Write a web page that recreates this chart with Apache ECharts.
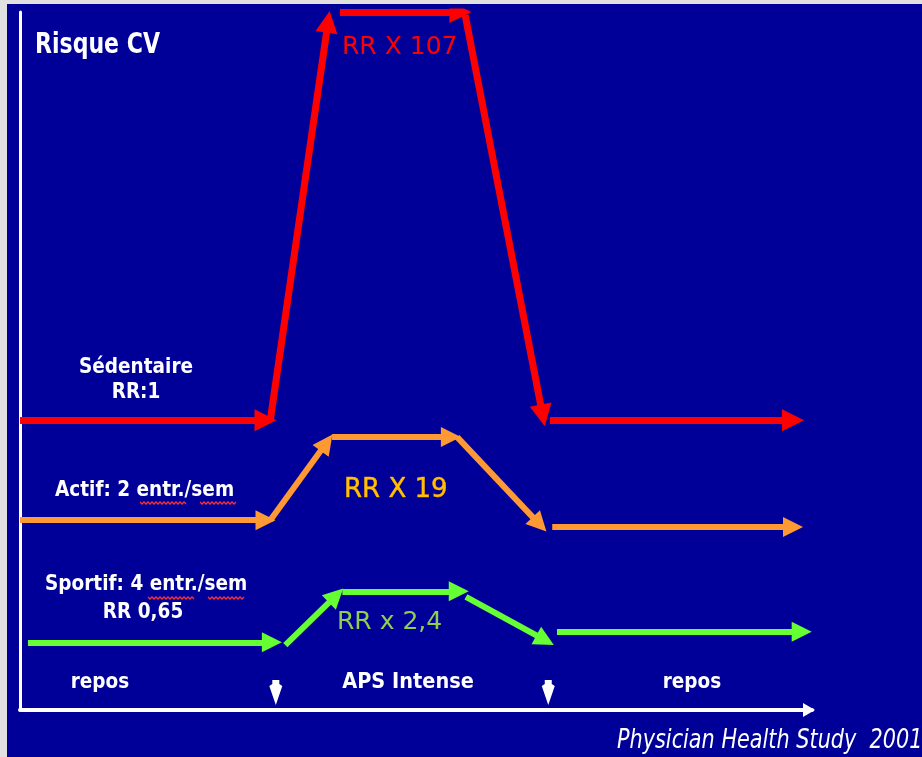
<!DOCTYPE html>
<html>
<head>
<meta charset="utf-8">
<script src="https://cdn.jsdelivr.net/npm/echarts@6/dist/echarts.min.js"></script>
<style>
    html, body { margin: 0; padding: 0; background: #e0e0e0; }
    #chart { width: 922px; height: 757px; }
</style>
</head>
<body>
<div id="chart"></div>
<script>
// Schematic: time goes 0..100 along x, relative risk level 0..100 along y
// each profile = 5 arrows: repos, montée, APS intense, descente, repos
const sedentaireFrom = [[0, 41.5], [31.6, 41.5], [40.4, 100], [56.2, 99.6], [66.9, 41.5]];
const sedentaireTo = [[31.0, 41.5], [38.9, 98.6], [55.6, 100], [66.0, 42.2], [97.6, 41.5]];

const actifFrom = [[0, 27.2], [31.6, 27.2], [39.4, 39.1], [55.2, 39.1], [67.2, 26.2]];
const actifTo = [[31.0, 27.2], [38.7, 38.3], [54.4, 39.1], [65.6, 26.6], [97.6, 26.2]];

const sportifFrom = [[1.0, 9.7], [33.5, 9.3], [40.7, 17.0], [56.3, 16.2], [67.8, 11.2]];
const sportifTo = [[31.8, 9.7], [39.9, 16.4], [55.4, 17.0], [66.3, 10.0], [98.7, 11.2]];

// start / end of intense exercise phase
const phaseMarks = [[32.3, 2.5], [66.7, 2.5]];

function arrows(from, to) {
    return from.map((p, i) => ({ coords: [p, to[i]] }));
}

function arrowSeries(name, from, to, color, width, size) {
    return {
        name: name,
        type: "lines",
        coordinateSystem: "cartesian2d",
        symbol: ["none", "triangle"],
        symbolSize: size,
        lineStyle: { color: color, width: width, opacity: 1, curveness: 0 },
        silent: true,
        data: arrows(from, to)
    };
}

// comic-ish slide text: tall glyphs squeezed horizontally
function label(text, x, y, opts, sx) {
    return {
        type: "text",
        x: x,
        y: y,
        z: 20,
        scaleX: sx || 0.88,
        style: Object.assign({
            text: text,
            fill: "#ffffff",
            font: 'bold 21px "DejaVu Sans"',
            textAlign: "left",
            textVerticalAlign: "middle"
        }, opts || {})
    };
}

// red spell-check squiggle under a word
function squiggle(x0, x1, y) {
    const pts = [];
    for (let x = x0, k = 0; x <= x1; x += 2, k++) {
        pts.push([x, y + (k % 2 ? 2 : 0)]);
    }
    return { type: "polyline", z: 20, shape: { points: pts }, style: { stroke: "#ff3030", lineWidth: 1.3, fill: null } };
}

const chart = echarts.init(document.getElementById("chart"));

chart.setOption({
    backgroundColor: "#000099",
    animation: false,
    grid: { left: 20, right: 110, top: 12, bottom: 47 },
    xAxis: {
        type: "value",
        min: 0,
        max: 100,
        axisLine: {
            lineStyle: { color: "#ffffff", width: 4 },
            symbol: ["none", "triangle"],
            symbolSize: [14, 12],
            symbolOffset: [0, -3]
        },
        axisTick: { show: false },
        axisLabel: { show: false },
        splitLine: { show: false }
    },
    yAxis: {
        type: "value",
        min: 0,
        max: 100,
        axisLine: { show: true, lineStyle: { color: "#ffffff", width: 3 } },
        axisTick: { show: false },
        axisLabel: { show: false },
        splitLine: { show: false }
    },
    series: [
        arrowSeries("Sédentaire", sedentaireFrom, sedentaireTo, "#ff0000", 7, 22),
        arrowSeries("Actif", actifFrom, actifTo, "#ff9933", 6, 20),
        arrowSeries("Sportif", sportifFrom, sportifTo, "#66ff33", 6, 20),
        {
            type: "scatter",
            symbol: "path://M3,0 L10,0 L10,4 L13,6 L6.5,25 L0,6 L3,4 Z",
            symbolSize: [13, 25],
            itemStyle: { color: "#ffffff", opacity: 1 },
            silent: true,
            data: phaseMarks
        }
    ],
    graphic: [
        // grey slide border on the left and top
        { type: "rect", shape: { x: 0, y: 0, width: 7, height: 757 }, style: { fill: "#e0e0e0" }, z: 30 },
        { type: "rect", shape: { x: 0, y: 0, width: 922, height: 4 }, style: { fill: "#e0e0e0" }, z: 30 },

        label("Risque CV", 35, 45, { font: 'bold 29px "DejaVu Sans"' }, 0.76),
        label("RR X 107", 342, 47, { fill: "#ff0000", font: '25px "DejaVu Sans"' }, 1),

        label("Sédentaire", 136, 368, { textAlign: "center" }),
        label("RR:1", 136, 393, { textAlign: "center" }),

        label("Actif: 2 entr./sem", 55, 491),
        squiggle(140, 186, 502),
        squiggle(200, 237, 502),
        label("RR X 19", 344, 490, { fill: "#ffc000", font: '26px "DejaVu Sans"', stroke: "#ff9900", lineWidth: 0.5 }, 1),

        label("Sportif: 4 entr./sem", 45, 585),
        squiggle(148, 194, 597),
        squiggle(208, 245, 597),
        label("RR 0,65", 143, 613, { textAlign: "center" }),
        label("RR x 2,4", 337, 622, { fill: "#8fcf4f", font: '25px "DejaVu Sans"' }, 1),

        label("repos", 100, 683, { textAlign: "center" }),
        label("APS Intense", 408, 682, { textAlign: "center", font: 'bold 22px "DejaVu Sans"' }),
        label("repos", 692, 683, { textAlign: "center" }),

        label("Physician Health Study  2001", 617, 741, { font: 'italic 26px "DejaVu Sans"' }, 0.8)
    ]
});
</script>
</body>
</html>
